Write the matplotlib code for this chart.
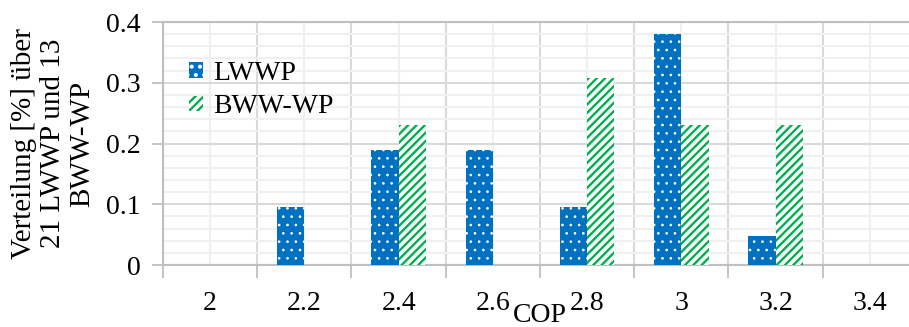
import matplotlib
matplotlib.use("Agg")
import matplotlib.pyplot as plt
import numpy as np
from matplotlib.ticker import FixedLocator, FuncFormatter, MultipleLocator

# COP classes and share of heat pumps in each class
cop_labels = ["2", "2.2", "2.4", "2.6", "2.8", "3", "3.2", "3.4"]
lwwp_share = [0.0, 0.095, 0.19, 0.19, 0.095, 0.381, 0.048, 0.0]
bwwp_share = [0.0, 0.0, 0.231, 0.0, 0.308, 0.231, 0.231, 0.0]

plt.rcParams["font.family"] = ["Liberation Serif", "DejaVu Serif"]
plt.rcParams["font.size"] = 20

blue = "#0070C0"
green = "#00B050"
grid_major = "#d9d9d9"
grid_minor = "#f0f0f0"

fig = plt.figure(figsize=(9.09, 3.27), dpi=100)
ax = fig.add_axes([0.1793, 0.1896, 0.8295, 0.7431])

x = np.arange(len(cop_labels))
w = 0.29
# fine white dots on blue
plt.rcParams["hatch.linewidth"] = 0.7
ax.bar(x - w / 2, lwwp_share, w, facecolor=blue, edgecolor="white",
       hatch="..", linewidth=0, label="LWWP", zorder=3)
# green diagonal stripes on white
plt.rcParams["hatch.linewidth"] = 1.7
ax.bar(x + w / 2, bwwp_share, w, facecolor="white", edgecolor=green,
       hatch="////", linewidth=0, label="BWW-WP", zorder=3)

ax.set_xlim(-0.5, len(cop_labels) - 0.5)
ax.set_ylim(0, 0.4)

# x: tick marks on class boundaries, labels in class centres
ax.xaxis.set_major_locator(FixedLocator(np.arange(-0.5, len(cop_labels) + 0.5, 1)))
ax.xaxis.set_major_formatter(FuncFormatter(lambda v, p: ""))
ax.set_xticks(x, cop_labels, minor=True)
ax.tick_params(axis="x", which="major", length=9, width=1.3, color="#bfbfbf", direction="out")
ax.tick_params(axis="x", which="minor", length=0, pad=19)

# y: labelled major ticks every 0.1, minor grid every 0.02
ax.yaxis.set_major_locator(MultipleLocator(0.1))
ax.yaxis.set_minor_locator(MultipleLocator(0.02))
ax.yaxis.set_major_formatter(FuncFormatter(lambda v, p: "0" if abs(v) < 1e-9 else f"{v:.1f}"))
ax.tick_params(axis="y", which="major", length=8, width=1.3, color="#bfbfbf", direction="out", pad=8)
ax.tick_params(axis="y", which="minor", length=0)

ax.grid(True, which="major", color=grid_major, linewidth=1.5, zorder=0)
ax.grid(True, which="minor", color=grid_minor, linewidth=1.5, zorder=0)
ax.set_axisbelow(True)

for side in ["left", "bottom", "top"]:
    ax.spines[side].set_color("#bfbfbf")
    ax.spines[side].set_linewidth(1.5)
ax.spines["right"].set_visible(False)

ax.set_xlabel("COP")
ax.xaxis.set_label_coords(0.5, -0.155)
ax.set_ylabel("Verteilung [%] über\n21 LWWP und 13\nBWW-WP", fontsize=21,
              linespacing=1.15, labelpad=8)

ax.legend(loc="upper left", bbox_to_anchor=(0.02, 0.885), frameon=False,
          handlelength=0.5, handleheight=0.5, handletextpad=0.35, labelspacing=0.3,
          borderaxespad=0)

fig.savefig("out.png", dpi=100)
